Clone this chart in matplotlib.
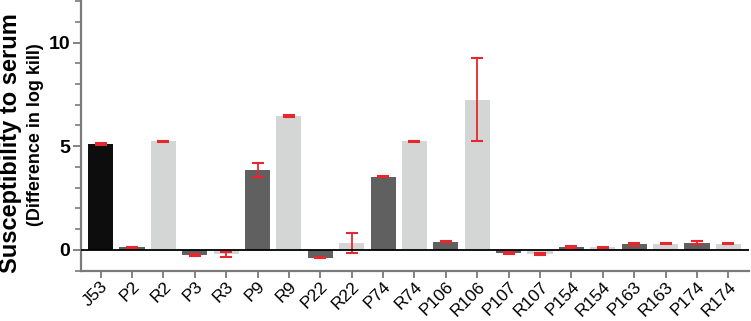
import matplotlib
matplotlib.use("Agg")
import matplotlib.pyplot as plt
import numpy as np
from matplotlib.ticker import MultipleLocator

plt.rcParams["font.family"] = ["Liberation Sans", "DejaVu Sans"]

strains = ["J53", "P2", "R2", "P3", "R3", "P9", "R9", "P22", "R22", "P74", "R74",
           "P106", "R106", "P107", "R107", "P154", "R154", "P163", "R163", "P174", "R174"]
log_kill = [5.10, 0.13, 5.23, -0.25, -0.20, 3.85, 6.44, -0.37, 0.35, 3.53, 5.23,
            0.40, 7.25, -0.16, -0.20, 0.13, 0.12, 0.26, 0.30, 0.34, 0.30]
err = [0.05, 0.03, 0.04, 0.04, 0.12, 0.35, 0.04, 0.03, 0.48, 0.02, 0.04,
       0.04, 1.98, 0.04, 0.06, 0.06, 0.04, 0.05, 0.04, 0.07, 0.04]

# J53 = parent, P* = dark grey, R* = light grey
colors = ["#0d0d0d" if s == "J53" else ("#606060" if s.startswith("P") else "#d4d6d5")
          for s in strains]

fig = plt.figure(figsize=(7.51, 3.21), dpi=100)
ax = fig.add_axes([0.108, 0.157, 0.889, 0.843])

x = np.arange(len(strains))
ax.bar(x, log_kill, width=0.8, color=colors, zorder=2)
ax.errorbar(x, log_kill, yerr=err, fmt="none", ecolor="#e8262d",
            elinewidth=1.3, capsize=4.5, capthick=1.5, zorder=3)
ax.axhline(0, color="black", lw=1.3, zorder=4)

ax.set_xlim(-0.62, 20.65)
ax.set_ylim(-1, 12.05)
ax.yaxis.set_major_locator(MultipleLocator(5))
ax.yaxis.set_minor_locator(MultipleLocator(1))

for side in ("top", "right"):
    ax.spines[side].set_visible(False)
for side in ("left", "bottom"):
    ax.spines[side].set_color("#7a7a7a")
    ax.spines[side].set_linewidth(1.6)

ax.set_xticks(x)
ax.set_xticklabels(strains, rotation=45, ha="right", rotation_mode="anchor", fontsize=12.5)
ax.tick_params(axis="x", color="#7a7a7a", length=5, width=1.3, pad=1)
ax.tick_params(axis="y", which="major", color="#7a7a7a", length=6, width=1.3, pad=2,
               labelsize=14)
ax.tick_params(axis="y", which="minor", color="#7a7a7a", length=4, width=1.2)
for lab in ax.get_yticklabels():
    lab.set_fontweight("bold")

fig.text(0.014, 0.555, "Susceptibility to serum", rotation=90, ha="center", va="center",
         fontsize=17, fontweight="bold")
fig.text(0.047, 0.58, "(Difference in log kill)", rotation=90, ha="center", va="center",
         fontsize=13, fontweight="bold")

fig.savefig("out.png", dpi=100)
